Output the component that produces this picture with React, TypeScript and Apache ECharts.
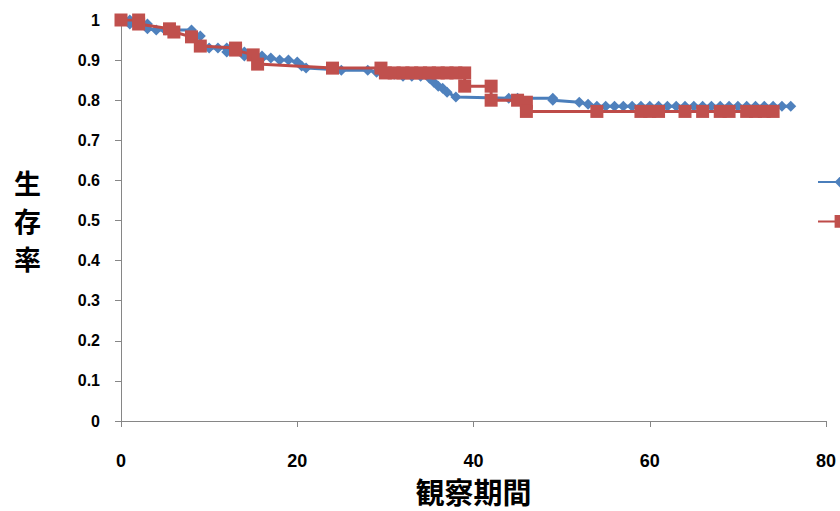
import React, { useEffect, useRef } from "react";
import * as echarts from "echarts";

// Blue group (diamonds): step points [observation time, survival]
const blueTime = [
  0, 1, 1, 3, 3, 4, 5, 8, 8, 9, 9, 10, 11, 12, 12, 14, 14, 16, 16, 17, 18, 19, 20, 20.5, 21,
  25, 28, 29, 31, 32, 33, 34, 35, 35.5, 36, 36.5, 37, 38, 44, 45, 49, 49, 52, 53, 54, 55, 56,
  57, 58, 59, 60, 61, 62, 63, 64, 65, 66, 67, 68, 69, 70, 71, 72, 73, 74, 75, 76,
];
const blueSurv = [
  1, 1, 0.99, 0.99, 0.978, 0.975, 0.975, 0.975, 0.965, 0.96, 0.94, 0.93, 0.93, 0.93, 0.92,
  0.92, 0.91, 0.91, 0.905, 0.905, 0.9, 0.9, 0.895, 0.885, 0.88, 0.875, 0.875, 0.87, 0.865,
  0.86, 0.86, 0.86, 0.855, 0.845, 0.835, 0.83, 0.82, 0.808, 0.805, 0.805, 0.805, 0.8, 0.795,
  0.79, 0.785, 0.785, 0.785, 0.785, 0.785, 0.785, 0.785, 0.785, 0.785, 0.785, 0.785, 0.785,
  0.785, 0.785, 0.785, 0.785, 0.785, 0.785, 0.785, 0.785, 0.785, 0.785, 0.785,
];

// Red group (squares): step points [observation time, survival]
const redTime = [
  0, 2, 2, 5.5, 6, 8, 9, 13, 13, 15, 15.5, 24, 29.5, 30, 31, 32, 33, 34, 35, 36, 37, 38, 39,
  39, 42, 42, 45, 46, 46, 54, 59, 60, 61, 64, 66, 68, 69, 71, 72, 73, 74,
];
const redSurv = [
  1, 1, 0.99, 0.978, 0.97, 0.958, 0.935, 0.93, 0.925, 0.913, 0.89, 0.88, 0.88, 0.868, 0.868,
  0.868, 0.868, 0.868, 0.868, 0.868, 0.868, 0.868, 0.868, 0.835, 0.835, 0.8, 0.8, 0.795,
  0.772, 0.772, 0.772, 0.772, 0.772, 0.772, 0.772, 0.772, 0.772, 0.772, 0.772, 0.772, 0.772,
];

const seriesNames = ["群A", "群B"];
const xTicks = { min: 0, max: 80, interval: 20 };
const yTicks = { min: 0, max: 1, interval: 0.1 };

export default function App() {
  const ref = useRef<HTMLDivElement>(null);
  useEffect(() => {
    if (!ref.current) return;
    const chart = echarts.init(ref.current, undefined, { renderer: "svg" });
    const axisGray = "#868686";
    const labelFont = {
      fontFamily: '"Liberation Sans", Arial, sans-serif',
      fontWeight: "bold" as const,
      color: "#000",
    };
    chart.setOption({
      animation: false,
      backgroundColor: "#fff",
      grid: { left: 121, right: 14, top: 20, bottom: 90, containLabel: false },
      legend: {
        orient: "vertical",
        left: 817,
        top: 174,
        padding: 0,
        itemWidth: 46,
        itemHeight: 16,
        itemGap: 25,
        formatter: () => "",
        data: seriesNames,
      },
      xAxis: {
        type: "value",
        min: xTicks.min,
        max: xTicks.max,
        interval: xTicks.interval,
        splitLine: { show: false },
        axisLine: { show: true, lineStyle: { color: axisGray, width: 1 } },
        axisTick: { show: true, inside: false, length: 6, lineStyle: { color: axisGray } },
        axisLabel: { ...labelFont, fontSize: 18, margin: 31 },
        name: "観察期間",
        nameLocation: "middle",
        nameGap: 55,
        nameTextStyle: {
          fontFamily: '"Noto Sans CJK JP", sans-serif',
          fontWeight: "bold",
          fontSize: 29,
          lineHeight: 29,
          color: "#000",
        },
      },
      yAxis: {
        type: "value",
        min: yTicks.min,
        max: yTicks.max,
        interval: yTicks.interval,
        splitLine: { show: false },
        axisLine: { show: true, lineStyle: { color: axisGray, width: 1 } },
        axisTick: { show: true, inside: false, length: 6, lineStyle: { color: axisGray } },
        axisLabel: { ...labelFont, fontSize: 16, margin: 21 },
        name: "生\n存\n率",
        nameLocation: "middle",
        nameRotate: 0,
        nameGap: 80,
        nameTextStyle: {
          fontFamily: '"Noto Sans CJK JP", sans-serif',
          fontWeight: "bold",
          fontSize: 27,
          lineHeight: 38,
          color: "#000",
        },
      },
      series: [
        {
          name: seriesNames[0],
          type: "line",
          data: blueTime.map((t, i) => [t, blueSurv[i]]),
          symbol: "diamond",
          symbolSize: 11,
          lineStyle: { color: "#4A7EBB", width: 3 },
          itemStyle: { color: "#4F81BD" },
          z: 2,
        },
        {
          name: seriesNames[1],
          type: "line",
          data: redTime.map((t, i) => [t, redSurv[i]]),
          symbol: "rect",
          symbolSize: 13,
          lineStyle: { color: "#BE4B48", width: 3 },
          itemStyle: { color: "#C0504D" },
          z: 3,
        },
      ],
    });
    return () => chart.dispose();
  }, []);
  return (
    <div
      ref={ref}
      style={{ position: "fixed", left: 0, top: 0, width: 840, height: 511 }}
    />
  );
}
